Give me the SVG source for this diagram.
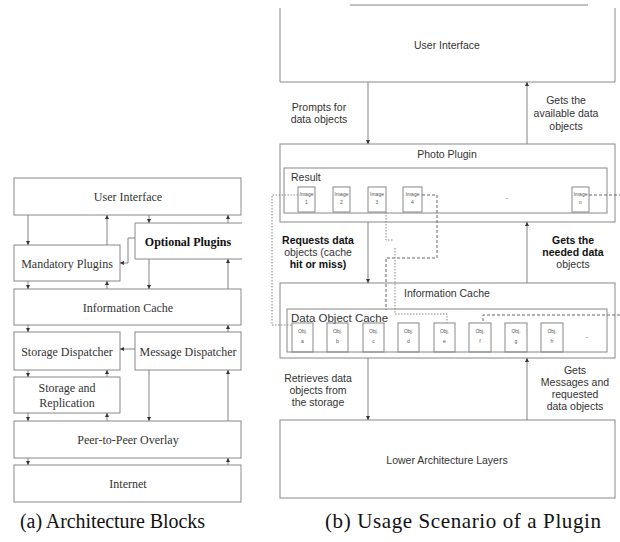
<svg xmlns="http://www.w3.org/2000/svg" width="620" height="542" viewBox="0 0 620 542">
<defs>
<marker id="ah" viewBox="0 0 6 6" refX="6" refY="3" markerWidth="4" markerHeight="4" orient="auto" markerUnits="userSpaceOnUse"><path d="M0,0 L6,3 L0,6 z" fill="#333"/></marker>
<style>
.bx{fill:none;stroke:#888;stroke-width:1}
.ln{fill:none;stroke:#777;stroke-width:0.9}
.ar{fill:none;stroke:#777;stroke-width:0.9;marker-end:url(#ah)}
.ds{fill:none;stroke:#666;stroke-width:1;stroke-dasharray:3,2}
.dt{fill:none;stroke:#888;stroke-width:1;stroke-dasharray:1.5,1.5}
.ta{font-family:"Liberation Serif","Times New Roman",serif;font-size:12px;fill:#333;text-anchor:middle}
.tab{font-family:"Liberation Serif","Times New Roman",serif;font-size:12px;fill:#111;font-weight:bold;text-anchor:middle}
.tb{font-family:"Liberation Sans",Arial,sans-serif;font-size:10.5px;fill:#333;text-anchor:middle}
.tbb{font-family:"Liberation Sans",Arial,sans-serif;font-size:10.5px;fill:#111;font-weight:bold;text-anchor:middle}
.ts{font-family:"Liberation Sans",Arial,sans-serif;font-size:5px;fill:#555;text-anchor:middle}
.tl{font-family:"Liberation Sans",Arial,sans-serif;font-size:10.5px;fill:#333}
.cap{font-family:"Liberation Serif","Times New Roman",serif;font-size:20px;fill:#111}
</style>
</defs>
<rect width="620" height="542" fill="#fff"/>

<!-- (a) Architecture Blocks -->
<g id="a-ui"><rect class="bx" x="14" y="178" width="227" height="37"/><text class="ta" x="128" y="201">User Interface</text></g>
<g id="a-optional"><path class="bx" d="M242,223 H135 V259 H242"/><text class="tab" x="188" y="246">Optional Plugins</text></g>
<g id="a-mandatory"><rect class="bx" x="14" y="245" width="106" height="36"/><text class="ta" x="67" y="268">Mandatory Plugins</text></g>
<g id="a-cache"><rect class="bx" x="14" y="289" width="227" height="36"/><text class="ta" x="128" y="312">Information Cache</text></g>
<g id="a-storage-disp"><rect class="bx" x="14" y="332" width="106" height="38"/><text class="ta" x="67" y="356">Storage Dispatcher</text></g>
<g id="a-message-disp"><rect class="bx" x="135" y="332" width="106" height="38"/><text class="ta" x="188" y="356">Message Dispatcher</text></g>
<g id="a-storage-repl"><rect class="bx" x="14" y="377" width="106" height="36"/><text class="ta" x="67" y="392">Storage and</text><text class="ta" x="67" y="407">Replication</text></g>
<g id="a-p2p"><rect class="bx" x="14" y="421" width="227" height="37"/><text class="ta" x="128" y="444">Peer-to-Peer Overlay</text></g>
<g id="a-internet"><rect class="bx" x="14" y="465" width="227" height="37"/><text class="ta" x="128" y="488">Internet</text></g>

<g id="a-connectors">
<path class="ar" d="M28,215 V245"/>
<path class="ar" d="M107,245 V215"/>
<path class="ar" d="M149,215 V223"/>
<path class="ar" d="M228,223 V215"/>
<path class="ar" d="M135,238 H128 V263 H120"/>
<path class="ar" d="M28,281 V289"/>
<path class="ar" d="M107,289 V281"/>
<path class="ar" d="M149,259 V289"/>
<path class="ar" d="M228,289 V259"/>
<path class="ar" d="M28,325 V332"/>
<path class="ar" d="M228,332 V325"/>
<path class="ar" d="M135,349 H120"/>
<path class="ar" d="M28,370 V377"/>
<path class="ar" d="M107,377 V370"/>
<path class="ar" d="M28,413 V421"/>
<path class="ar" d="M107,421 V413"/>
<path class="ar" d="M149,370 V421"/>
<path class="ar" d="M228,421 V370"/>
<path class="ar" d="M28,458 V465"/>
<path class="ar" d="M228,465 V458"/>
</g>

<!-- (b) Usage Scenario -->
<g id="b-ui"><path class="bx" d="M280,8 V82 H615 V8"/><path class="ln" d="M350,5 H588"/><text class="tb" x="447" y="49">User Interface</text></g>
<g id="b-photo"><rect class="bx" x="280" y="144" width="335" height="78"/><text class="tb" x="447" y="158">Photo Plugin</text>
<rect class="bx" x="284" y="168" width="323" height="45"/><text class="tl" x="291" y="181">Result</text>
<g id="img1"><rect class="bx" x="298" y="187" width="17" height="25"/><text class="ts" x="306.5" y="196">Image</text><text class="ts" x="306.5" y="204">1</text></g>
<g id="img2"><rect class="bx" x="333" y="187" width="17" height="25"/><text class="ts" x="341.5" y="196">Image</text><text class="ts" x="341.5" y="204">2</text></g>
<g id="img3"><rect class="bx" x="368" y="187" width="18" height="25"/><text class="ts" x="377" y="196">Image</text><text class="ts" x="377" y="204">3</text></g>
<g id="img4"><rect class="bx" x="403" y="187" width="19" height="25"/><text class="ts" x="412.5" y="196">Image</text><text class="ts" x="412.5" y="204">4</text></g>
<text class="ts" x="507" y="200">–</text>
<g id="imgn"><rect class="bx" x="572" y="187" width="17" height="25"/><text class="ts" x="580.5" y="196">Image</text><text class="ts" x="580.5" y="204">n</text></g>
</g>
<g id="b-cache"><rect class="bx" x="280" y="283" width="335" height="75"/><text class="tb" x="447" y="297">Information Cache</text>
<rect class="bx" x="287" y="309" width="320" height="43"/><text class="tl" x="291" y="322" style="font-size:11.5px">Data Object Cache</text>
<g id="obj-a"><rect class="bx" x="292" y="323" width="21" height="29"/><text class="ts" x="302.5" y="333">Obj.</text><text class="ts" x="302.5" y="343">a</text></g>
<g id="obj-b"><rect class="bx" x="327" y="323" width="21" height="29"/><text class="ts" x="337.5" y="333">Obj.</text><text class="ts" x="337.5" y="343">b</text></g>
<g id="obj-c"><rect class="bx" x="363" y="323" width="21" height="29"/><text class="ts" x="373.5" y="333">Obj.</text><text class="ts" x="373.5" y="343">c</text></g>
<g id="obj-d"><rect class="bx" x="398" y="323" width="21" height="29"/><text class="ts" x="408.5" y="333">Obj.</text><text class="ts" x="408.5" y="343">d</text></g>
<g id="obj-e"><rect class="bx" x="434" y="323" width="21" height="29"/><text class="ts" x="444.5" y="333">Obj.</text><text class="ts" x="444.5" y="343">e</text></g>
<g id="obj-f"><rect class="bx" x="469" y="323" width="22" height="29"/><text class="ts" x="480" y="333">Obj.</text><text class="ts" x="480" y="343">f</text></g>
<g id="obj-g"><rect class="bx" x="505" y="323" width="22" height="29"/><text class="ts" x="516" y="333">Obj.</text><text class="ts" x="516" y="343">g</text></g>
<g id="obj-h"><rect class="bx" x="541" y="323" width="22" height="29"/><text class="ts" x="552" y="333">Obj.</text><text class="ts" x="552" y="343">h</text></g>
<text class="ts" x="587" y="339">–</text>
</g>
<g id="b-lower"><rect class="bx" x="280" y="420" width="335" height="78"/><text class="tb" x="447" y="464">Lower Architecture Layers</text></g>

<g id="b-connectors">
<path class="ar" d="M368,82 V144"/>
<path class="ar" d="M527,144 V82"/>
<path class="ar" d="M368,222 V283"/>
<path class="ar" d="M527,283 V222"/>
<path class="ar" d="M368,358 V420"/>
<path class="ar" d="M527,420 V358"/>
<path class="dt" d="M298,195 H272 V325 H292"/>
<path class="dt" d="M386,212 V240 H393"/>
<path class="ds" d="M422,195 H437 V258 H386 V310"/>
<path class="dt" d="M395,248 V314 H447 V323"/>
<path class="ds" d="M589,195 H620"/>
<path class="ds" d="M620,315 H483 V323"/>
</g>
<g id="b-labels">
<text class="tb" x="319" y="111">Prompts for</text>
<text class="tb" x="319" y="123">data objects</text>
<text class="tb" x="566" y="104">Gets the</text>
<text class="tb" x="566" y="117">available data</text>
<text class="tb" x="566" y="130">objects</text>
<text class="tbb" x="318" y="244">Requests data</text>
<text class="tb" x="318" y="256">objects (cache</text>
<text class="tbb" x="318" y="268">hit or miss)</text>
<text class="tbb" x="573" y="244">Gets the</text>
<text class="tbb" x="573" y="256">needed data</text>
<text class="tb" x="573" y="268">objects</text>
<text class="tb" x="318" y="382">Retrieves data</text>
<text class="tb" x="318" y="394">objects from</text>
<text class="tb" x="318" y="406">the storage</text>
<text class="tb" x="575" y="374">Gets</text>
<text class="tb" x="575" y="386">Messages and</text>
<text class="tb" x="575" y="398">requested</text>
<text class="tb" x="575" y="410">data objects</text>
</g>

<text class="cap" x="20" y="528" textLength="185" lengthAdjust="spacing">(a) Architecture Blocks</text>
<text class="cap" x="325" y="528" style="font-size:21px" textLength="276" lengthAdjust="spacing">(b) Usage Scenario of a Plugin</text>
</svg>
